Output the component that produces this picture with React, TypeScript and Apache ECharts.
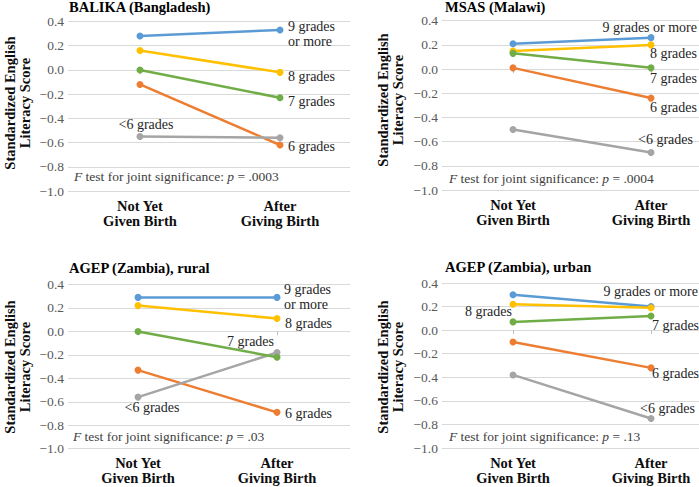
import React, { useEffect, useRef } from "react";
import * as echarts from "echarts";

// Categories (x axis)
const categories = ["Not Yet\nGiven Birth", "After\nGiving Birth"];

// Groups in drawing order
const groupNames = ["9 grades or more", "6 grades", "<6 grades", "8 grades", "7 grades"];
const groupColors = ["#5B9BD5", "#ED7D31", "#A5A5A5", "#FFC000", "#70AD47"];

// Values per panel, in the order of groupNames: [9+, 6, <6, 8, 7]
const balikaBefore = [0.28, -0.12, -0.55, 0.16, 0.0];
const balikaAfter = [0.33, -0.62, -0.56, -0.02, -0.23];
const malawiBefore = [0.21, 0.01, -0.5, 0.15, 0.13];
const malawiAfter = [0.26, -0.24, -0.69, 0.2, 0.01];
const ruralBefore = [0.29, -0.33, -0.56, 0.22, 0.0];
const ruralAfter = [0.29, -0.69, -0.18, 0.11, -0.22];
const urbanBefore = [0.3, -0.1, -0.38, 0.22, 0.07];
const urbanAfter = [0.2, -0.32, -0.75, 0.19, 0.12];

const panelTitles = ["BALIKA (Bangladesh)", "MSAS (Malawi)", "AGEP (Zambia), rural", "AGEP (Zambia), urban"];
const pValues = [".0003", ".0004", ".03", ".13"];
const yAxisTitle = "Standardized English\nLiteracy Score";
const yMin = -1.0;
const yMax = 0.4;
const yStep = 0.2;

const FONT = "Liberation Serif";

type Lbl = { pt: number; text: string; dx: number; dy: number; align: string };

const layouts: any[] = [
  {
    before: balikaBefore, after: balikaAfter,
    left: 68, top: 21.5, width: 282, height: 169.5, xMin: -0.514, xMax: 1.5,
    titleX: 69, titleY: 7, yTitleX: 17.5, yTitleY: 103, fX: 74, fY: 176,
    labels: [
      { pt: 1, text: "9 grades\nor more", dx: 8, dy: 4.5, align: "left" },
      { pt: 1, text: "6 grades", dx: 8, dy: 2, align: "left" },
      { pt: 0, text: "<6 grades", dx: 6, dy: -12, align: "center" },
      { pt: 1, text: "8 grades", dx: 8, dy: 4, align: "left" },
      { pt: 1, text: "7 grades", dx: 8, dy: 4, align: "left" },
    ] as Lbl[],
  },
  {
    before: malawiBefore, after: malawiAfter,
    left: 442, top: 20.7, width: 257, height: 169.3, xMin: -0.5145, xMax: 1.3478,
    titleX: 445, titleY: 7, yTitleX: 390.5, yTitleY: 100, fX: 449, fY: 178,
    labels: [
      { pt: 1, text: "9 grades or more", dx: 46, dy: -10.6, align: "right" },
      { pt: 1, text: "6 grades", dx: 46, dy: 9, align: "right" },
      { pt: 1, text: "<6 grades", dx: 42, dy: -13.5, align: "right" },
      { pt: 1, text: "8 grades", dx: 46, dy: 9, align: "right" },
      { pt: 1, text: "7 grades", dx: 46, dy: 11, align: "right" },
    ] as Lbl[],
  },
  {
    before: ruralBefore, after: ruralAfter,
    left: 68, top: 284.5, width: 282, height: 164.2, xMin: -0.5036, xMax: 1.525,
    titleX: 69, titleY: 268, yTitleX: 17.5, yTitleY: 367, fX: 73, fY: 436,
    labels: [
      { pt: 1, text: "9 grades\nor more", dx: 7, dy: 0, align: "left" },
      { pt: 1, text: "6 grades", dx: 8, dy: 1.6, align: "left" },
      { pt: 0, text: "<6 grades", dx: 14, dy: 10, align: "center" },
      { pt: 1, text: "8 grades", dx: 8, dy: 4.5, align: "left" },
      { pt: 1, text: "7 grades", dx: -3, dy: -16, align: "right" },
    ] as Lbl[],
  },
  {
    before: urbanBefore, after: urbanAfter,
    left: 442, top: 283, width: 257, height: 165, xMin: -0.5145, xMax: 1.3478,
    titleX: 445, titleY: 267, yTitleX: 390.5, yTitleY: 367, fX: 449, fY: 436,
    labels: [
      { pt: 1, text: "9 grades or more", dx: 47, dy: -14.6, align: "right" },
      { pt: 1, text: "6 grades", dx: 1, dy: 6, align: "left" },
      { pt: 1, text: "<6 grades", dx: -11, dy: -10, align: "left" },
      { pt: 0, text: "8 grades", dx: -1, dy: 7, align: "right" },
      { pt: 1, text: "7 grades", dx: 1, dy: 9, align: "left" },
    ] as Lbl[],
  },
];

const fmtY = (v: number) => {
  const s = Math.abs(v).toFixed(1);
  return v < -1e-9 ? "\u2212" + s : s;
};

export default function App() {
  const ref = useRef<HTMLDivElement>(null);

  useEffect(() => {
    if (!ref.current) return;
    const chart = echarts.init(ref.current, undefined, { renderer: "svg" });

    const grids: any[] = [];
    const xAxes: any[] = [];
    const yAxes: any[] = [];
    const series: any[] = [];
    const graphics: any[] = [];

    layouts.forEach((L, p) => {
      grids.push({ left: L.left, top: L.top, width: L.width, height: L.height });
      xAxes.push({
        type: "value",
        gridIndex: p,
        min: L.xMin,
        max: L.xMax,
        splitLine: { show: false },
        axisLine: { show: false },
        axisTick: { show: true, customValues: [0, 1], length: 4, lineStyle: { color: "#bfbfbf" } },
        axisLabel: {
          customValues: [0, 1],
          formatter: (v: number) => (Math.abs(v) < 1e-9 ? categories[0] : Math.abs(v - 1) < 1e-9 ? categories[1] : ""),
          fontFamily: FONT,
          fontWeight: "bold",
          fontSize: 14.5,
          lineHeight: 15,
          margin: 7,
          color: "#0d0d0d",
        },
      });
      yAxes.push({
        type: "value",
        gridIndex: p,
        min: yMin,
        max: yMax,
        interval: yStep,
        axisLine: { show: false },
        axisTick: { show: false },
        splitLine: { lineStyle: { color: "#d9d9d9", width: 1 } },
        axisLabel: { formatter: fmtY, fontFamily: FONT, fontSize: 13.5, color: "#595959", margin: 4 },
      });

      groupNames.forEach((g, gi) => {
        const lb: Lbl = L.labels[gi];
        const vals = [L.before[gi], L.after[gi]];
        const data = vals.map((v: number, i: number) => {
          const item: any = { value: [i, v] };
          if (i === lb.pt) {
            item.label = {
              show: true,
              formatter: lb.text,
              position: [3.5 + lb.dx, 3.5 + lb.dy],
              align: lb.align,
              verticalAlign: "middle",
              fontFamily: FONT,
              fontSize: 14,
              lineHeight: 15,
              color: "#262626",
            };
          }
          return item;
        });
        series.push({
          type: "line",
          name: g,
          xAxisIndex: p,
          yAxisIndex: p,
          data,
          symbol: "circle",
          symbolSize: 7,
          showSymbol: true,
          lineStyle: { color: groupColors[gi], width: 2.5 },
          itemStyle: { color: groupColors[gi] },
          label: { show: false },
          emphasis: { disabled: true },
          z: 2 + gi,
        });
      });

      graphics.push({
        type: "text",
        x: L.titleX,
        y: L.titleY,
        style: {
          text: panelTitles[p],
          fontFamily: FONT,
          fontWeight: "bold",
          fontSize: 14.5,
          fill: "#000",
          align: "left",
          verticalAlign: "middle",
        },
      });
      graphics.push({
        type: "text",
        x: L.yTitleX,
        y: L.yTitleY,
        rotation: Math.PI / 2,
        style: {
          text: yAxisTitle,
          fontFamily: FONT,
          fontWeight: "bold",
          fontSize: 14.5,
          lineHeight: 15,
          fill: "#0d0d0d",
          align: "center",
          verticalAlign: "middle",
        },
      });
      graphics.push({
        type: "text",
        x: L.fX,
        y: L.fY,
        style: {
          text: `{i|F} test for joint significance: {i|p} = ${pValues[p]}`,
          fontFamily: FONT,
          fontSize: 13.5,
          fill: "#404040",
          align: "left",
          verticalAlign: "middle",
          rich: {
            i: { fontStyle: "italic", fontFamily: FONT, fontSize: 13.5, fill: "#404040" },
          },
        },
      });
    });

    chart.setOption({
      animation: false,
      backgroundColor: "#ffffff",
      grid: grids,
      xAxis: xAxes,
      yAxis: yAxes,
      series,
      graphic: graphics,
    });

    return () => chart.dispose();
  }, []);

  return (
    <div
      ref={ref}
      style={{ position: "fixed", left: 0, top: 0, width: 699, height: 487 }}
    />
  );
}
